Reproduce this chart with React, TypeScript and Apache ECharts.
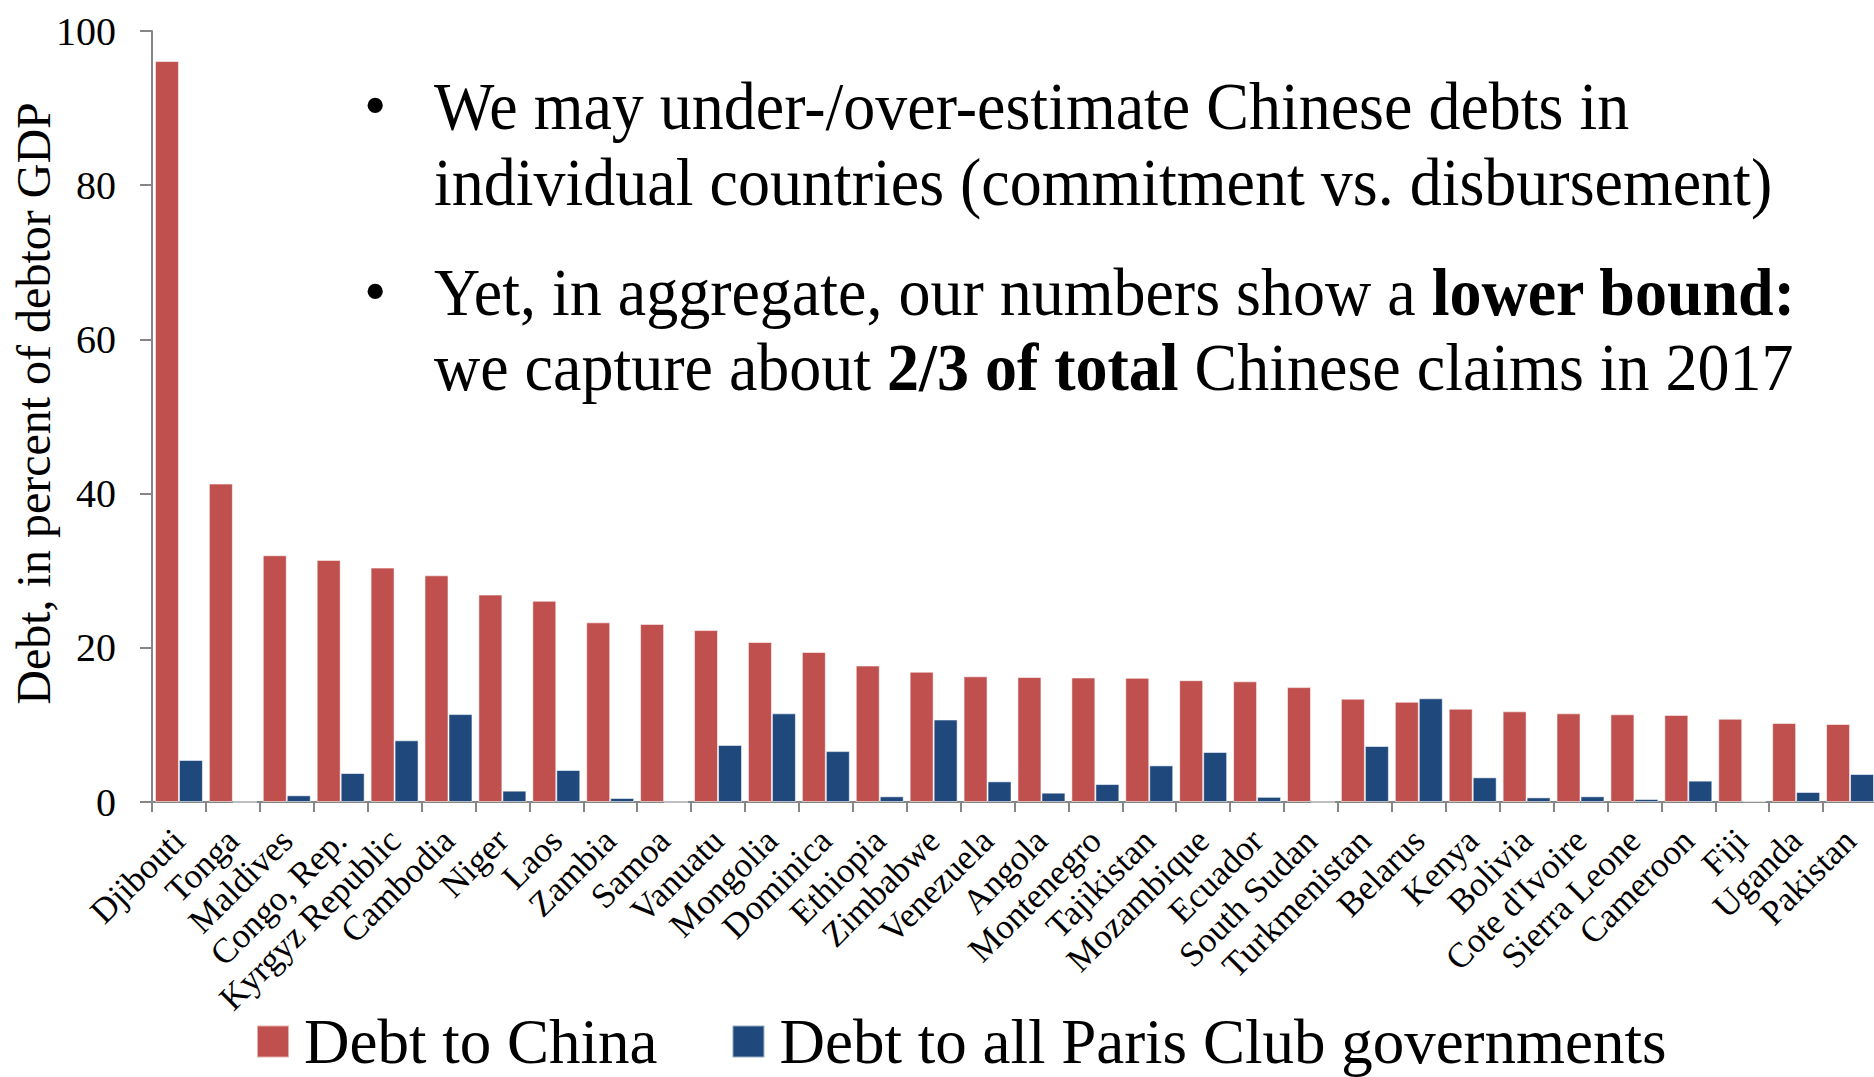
import React, { useEffect, useRef } from "react";
import * as echarts from "echarts";

const countries = [
  "Djibouti", "Tonga", "Maldives", "Congo, Rep.", "Kyrgyz Republic", "Cambodia", "Niger", "Laos",
  "Zambia", "Samoa", "Vanuatu", "Mongolia", "Dominica", "Ethiopia", "Zimbabwe", "Venezuela",
  "Angola", "Montenegro", "Tajikistan", "Mozambique", "Ecuador", "South Sudan", "Turkmenistan", "Belarus",
  "Kenya", "Bolivia", "Cote d'Ivoire", "Sierra Leone", "Cameroon", "Fiji", "Uganda", "Pakistan",
];

const debtToChina = [
  96.1, 41.3, 32.0, 31.4, 30.4, 29.4, 26.9, 26.1,
  23.3, 23.1, 22.3, 20.75, 19.45, 17.7, 16.9, 16.3,
  16.2, 16.15, 16.1, 15.8, 15.65, 14.9, 13.4, 13.0,
  12.1, 11.76, 11.5, 11.37, 11.3, 10.8, 10.25, 10.12,
];

const debtToParisClub = [
  5.45, 0, 0.87, 3.76, 8.0, 11.4, 1.47, 4.15,
  0.52, 0, 7.4, 11.5, 6.6, 0.74, 10.7, 2.68,
  1.21, 2.33, 4.75, 6.49, 0.67, 0, 7.26, 13.45,
  3.2, 0.6, 0.74, 0.39, 2.77, 0.1, 1.3, 3.63,
];

const yTicks = { min: 0, max: 100, interval: 20 };

const seriesNames = ["Debt to China", "Debt to all Paris Club governments"];
const yAxisTitle = "Debt, in percent of debtor GDP";
const bulletLines = [
  "We may under-/over-estimate Chinese debts in",
  "individual countries (commitment vs. disbursement)",
  "Yet, in aggregate, our numbers show a {b|lower bound:}",
  "we capture about {b|2/3 of total} Chinese claims in 2017",
];

const FONT = "Liberation Serif, Times New Roman, serif";

export default function App() {
  const ref = useRef<HTMLDivElement>(null);

  useEffect(() => {
    if (!ref.current) return;
    const chart = echarts.init(ref.current, undefined, { renderer: "svg" });
    const bulletY = [105.4, 181.7, 291.7, 366.7];
    const textStyleBase = {
      fontSize: 64,
      fontFamily: FONT,
      fill: "#000",
      verticalAlign: "middle" as const,
      rich: { b: { fontWeight: "bold", fontSize: 64, fontFamily: FONT, fill: "#000" } },
    };
    const graphics: any[] = [];
    bulletLines.forEach((line, i) => {
      graphics.push({
        type: "text",
        x: 434,
        y: bulletY[i],
        scaleY: 1.07,
        style: { ...textStyleBase, text: line },
      });
    });
    [0, 2].forEach((i) => {
      graphics.push({
        type: "text",
        x: 364,
        y: bulletY[i],
        style: { ...textStyleBase, text: "•" },
      });
    });

    chart.setOption({
      animation: false,
      backgroundColor: "#ffffff",
      grid: {
        left: 152,
        top: 31,
        width: 1725,
        height: 771,
        containLabel: false,
        outerBoundsMode: "none",
      },
      legend: {
        data: seriesNames,
        icon: "rect",
        itemWidth: 32,
        itemHeight: 32,
        itemGap: 74,
        left: 256,
        top: 1010,
        padding: 0,
        textStyle: { fontSize: 63, fontFamily: FONT, color: "#000", lineHeight: 56, padding: [0, 0, 0, 10] },
      },
      xAxis: {
        type: "category",
        data: countries,
        axisLine: { lineStyle: { color: "#868686", width: 2 } },
        axisTick: { show: true, length: 10, lineStyle: { color: "#868686", width: 2 } },
        axisLabel: {
          interval: 0,
          rotate: 45,
          fontSize: 35,
          fontFamily: FONT,
          color: "#000",
          margin: 33,
        },
      },
      yAxis: {
        type: "value",
        min: yTicks.min,
        max: yTicks.max,
        interval: yTicks.interval,
        name: yAxisTitle,
        nameLocation: "middle",
        nameRotate: 90,
        nameGap: 95,
        nameMoveOverlap: false,
        nameTextStyle: { fontSize: 48, fontFamily: FONT, color: "#000", lineHeight: 48, padding: [0, 0, 0, 26] },
        splitLine: { show: false },
        axisLine: { show: true, lineStyle: { color: "#868686", width: 2 } },
        axisTick: { show: true, length: 12, lineStyle: { color: "#868686", width: 2 } },
        axisLabel: { fontSize: 40, fontFamily: FONT, color: "#000", margin: 36 },
      },
      series: [
        {
          name: seriesNames[0],
          type: "bar",
          data: debtToChina,
          barGap: "0%",
          barCategoryGap: "11%",
          itemStyle: { color: "#C0504D", borderColor: "rgba(255,255,255,0.55)", borderWidth: 1 },
        },
        {
          name: seriesNames[1],
          type: "bar",
          data: debtToParisClub,
          barGap: "0%",
          barCategoryGap: "11%",
          itemStyle: { color: "#1F497D", borderColor: "rgba(255,255,255,0.55)", borderWidth: 1 },
        },
      ],
      graphic: graphics,
    });
    return () => chart.dispose();
  }, []);

  return (
    <div
      ref={ref}
      style={{ position: "absolute", left: 0, top: 0, width: 1874, height: 1077, background: "#fff" }}
    />
  );
}
